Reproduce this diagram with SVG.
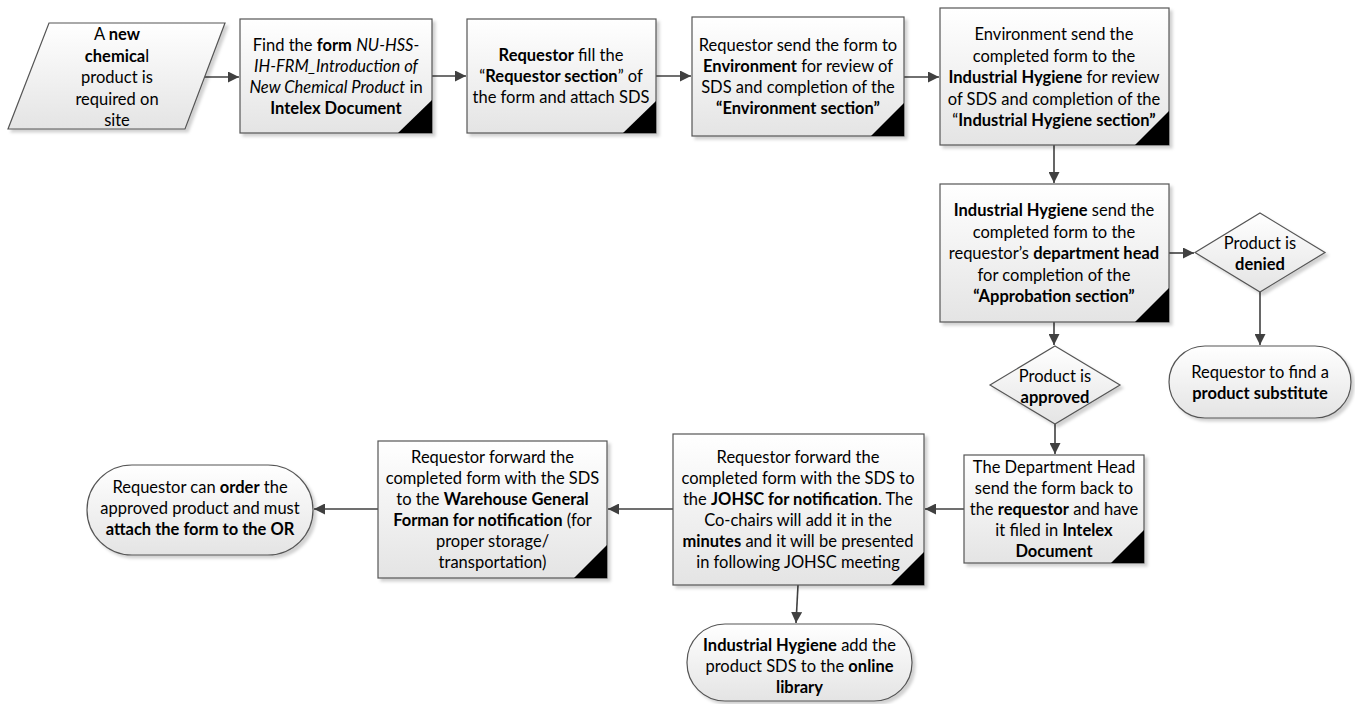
<svg xmlns="http://www.w3.org/2000/svg" width="1355" height="704" viewBox="0 0 1355 704">
<defs>
<linearGradient id="g" x1="0" y1="0" x2="0" y2="1">
<stop offset="0" stop-color="#ffffff"/>
<stop offset="1" stop-color="#e4e4e4"/>
</linearGradient>
<filter id="sh" x="-10%" y="-10%" width="130%" height="130%">
<feDropShadow dx="3" dy="3" stdDeviation="1.5" flood-color="#000" flood-opacity="0.18"/>
</filter>
<marker id="ah" viewBox="0 0 10 10" refX="10" refY="5" markerWidth="11" markerHeight="11" markerUnits="userSpaceOnUse" orient="auto">
<path d="M0,0 L10,5 L0,10 z" fill="#404040"/>
</marker>
<style>
.s{fill:url(#g);stroke:#555;stroke-width:1.2;filter:url(#sh)}
.c{fill:#000}
.t{font-family:Lato,"Liberation Sans",sans-serif;font-size:16.5px;fill:#000;text-anchor:middle}
.b{font-weight:bold}
.i{font-style:italic}
.cn path{fill:none;stroke:#404040;stroke-width:1.6;marker-end:url(#ah)}
</style>
</defs>
<rect width="1355" height="704" fill="#fff"/>

<g class="cn" id="connectors">
<path d="M205,77 H239"/>
<path d="M432,76 H466"/>
<path d="M656,76 H691"/>
<path d="M904,77 H939"/>
<path d="M1054,145 V183"/>
<path d="M1169,253 H1194"/>
<path d="M1260,292 V345"/>
<path d="M1054,322 V345"/>
<path d="M1055,424 V454"/>
<path d="M964,509 H925"/>
<path d="M673,509 H608"/>
<path d="M378,509 H314"/>
<path d="M798,585 L796,623"/>
</g>

<g id="n1">
<polygon class="s" points="49,23 225,23 185,129 8,129"/>
<text class="t" x="117" y="40">A <tspan class="b">new</tspan></text>
<text class="t" x="117" y="61.5"><tspan class="b">chemica</tspan>l</text>
<text class="t" x="117" y="83">product is</text>
<text class="t" x="117" y="104.5">required on</text>
<text class="t" x="117" y="126">site</text>
</g>

<g id="n2">
<rect class="s" x="240" y="19" width="192" height="114"/>
<path class="c" d="M432,100 V133 H398 z"/>
<text class="t" x="336" y="51">Find the <tspan class="b">form</tspan> <tspan class="i">NU-HSS-</tspan></text>
<text class="t i" x="336" y="72">IH-FRM_Introduction of</text>
<text class="t" x="336" y="93"><tspan class="i">New Chemical Product</tspan> in</text>
<text class="t b" x="336" y="114">Intelex Document</text>
</g>

<g id="n3">
<rect class="s" x="467" y="19" width="189" height="114"/>
<path class="c" d="M656,101 V133 H623 z"/>
<text class="t" x="561" y="61"><tspan class="b">Requestor</tspan> fill the</text>
<text class="t" x="561" y="82">“<tspan class="b">Requestor section</tspan>” of</text>
<text class="t" x="561" y="103">the form and attach SDS</text>
</g>

<g id="n4">
<rect class="s" x="692" y="17" width="212" height="119"/>
<path class="c" d="M904,103 V136 H871 z"/>
<text class="t" x="798" y="51">Requestor send the form to</text>
<text class="t" x="798" y="72"><tspan class="b">Environment</tspan> for review of</text>
<text class="t" x="798" y="93">SDS and completion of the</text>
<text class="t b" x="798" y="114">“Environment section”</text>
</g>

<g id="n5">
<rect class="s" x="940" y="8" width="229" height="137"/>
<path class="c" d="M1169,111 V145 H1135 z"/>
<text class="t" x="1054" y="40">Environment send the</text>
<text class="t" x="1054" y="61.5">completed form to the</text>
<text class="t" x="1054" y="83"><tspan class="b">Industrial Hygiene</tspan> for review</text>
<text class="t" x="1054" y="104.5">of SDS and completion of the</text>
<text class="t" x="1054" y="126">“<tspan class="b">Industrial Hygiene section”</tspan></text>
</g>

<g id="n6">
<rect class="s" x="940" y="184" width="229" height="138"/>
<path class="c" d="M1169,288 V322 H1135 z"/>
<text class="t" x="1054" y="216"><tspan class="b">Industrial Hygiene</tspan> send the</text>
<text class="t" x="1054" y="237.5">completed form to the</text>
<text class="t" x="1054" y="259">requestor’s <tspan class="b">department head</tspan></text>
<text class="t" x="1054" y="280.5">for completion of the</text>
<text class="t b" x="1054" y="302">“Approbation section”</text>
</g>

<g id="n7">
<polygon class="s" points="1260,213 1325,252.5 1260,292 1195,252.5"/>
<text class="t" x="1260" y="249">Product is</text>
<text class="t b" x="1260" y="270">denied</text>
</g>

<g id="n8">
<rect class="s" x="1169" y="346" width="182" height="72" rx="36" ry="36"/>
<text class="t" x="1260" y="378">Requestor to find a</text>
<text class="t b" x="1260" y="399">product substitute</text>
</g>

<g id="n9">
<polygon class="s" points="1055,346 1120,385 1055,424 990,385"/>
<text class="t" x="1055" y="382">Product is</text>
<text class="t b" x="1055" y="403">approved</text>
</g>

<g id="n10">
<rect class="s" x="964" y="455" width="180" height="108"/>
<path class="c" d="M1144,530 V563 H1111 z"/>
<text class="t" x="1054" y="473">The Department Head</text>
<text class="t" x="1054" y="494">send the form back to</text>
<text class="t" x="1054" y="515">the <tspan class="b">requestor</tspan> and have</text>
<text class="t" x="1054" y="536">it filed in <tspan class="b">Intelex</tspan></text>
<text class="t b" x="1054" y="557">Document</text>
</g>

<g id="n11">
<rect class="s" x="673" y="434" width="251" height="151"/>
<path class="c" d="M924,552 V585 H891 z"/>
<text class="t" x="798" y="463">Requestor forward the</text>
<text class="t" x="798" y="484">completed form with the SDS to</text>
<text class="t" x="798" y="505">the <tspan class="b">JOHSC for notification</tspan>. The</text>
<text class="t" x="798" y="526">Co-chairs will add it in the</text>
<text class="t" x="798" y="547"><tspan class="b">minutes</tspan> and it will be presented</text>
<text class="t" x="798" y="568">in following JOHSC meeting</text>
</g>

<g id="n12">
<rect class="s" x="687" y="624" width="225" height="77" rx="38" ry="38"/>
<text class="t" x="799.5" y="651"><tspan class="b">Industrial Hygiene</tspan> add the</text>
<text class="t" x="799.5" y="672">product SDS to the <tspan class="b">online</tspan></text>
<text class="t b" x="799.5" y="693">library</text>
</g>

<g id="n13">
<rect class="s" x="378" y="441" width="229" height="137"/>
<path class="c" d="M607,545 V578 H574 z"/>
<text class="t" x="492.5" y="463">Requestor forward the</text>
<text class="t" x="492.5" y="484">completed form with the SDS</text>
<text class="t" x="492.5" y="505">to the <tspan class="b">Warehouse General</tspan></text>
<text class="t" x="492.5" y="526"><tspan class="b">Forman for notification</tspan> (for</text>
<text class="t" x="492.5" y="547">proper storage/</text>
<text class="t" x="492.5" y="568">transportation)</text>
</g>

<g id="n14">
<rect class="s" x="87" y="465" width="226" height="90" rx="45" ry="45"/>
<text class="t" x="200" y="493">Requestor can <tspan class="b">order</tspan> the</text>
<text class="t" x="200" y="514">approved product and must</text>
<text class="t b" x="200" y="535">attach the form to the OR</text>
</g>
</svg>
